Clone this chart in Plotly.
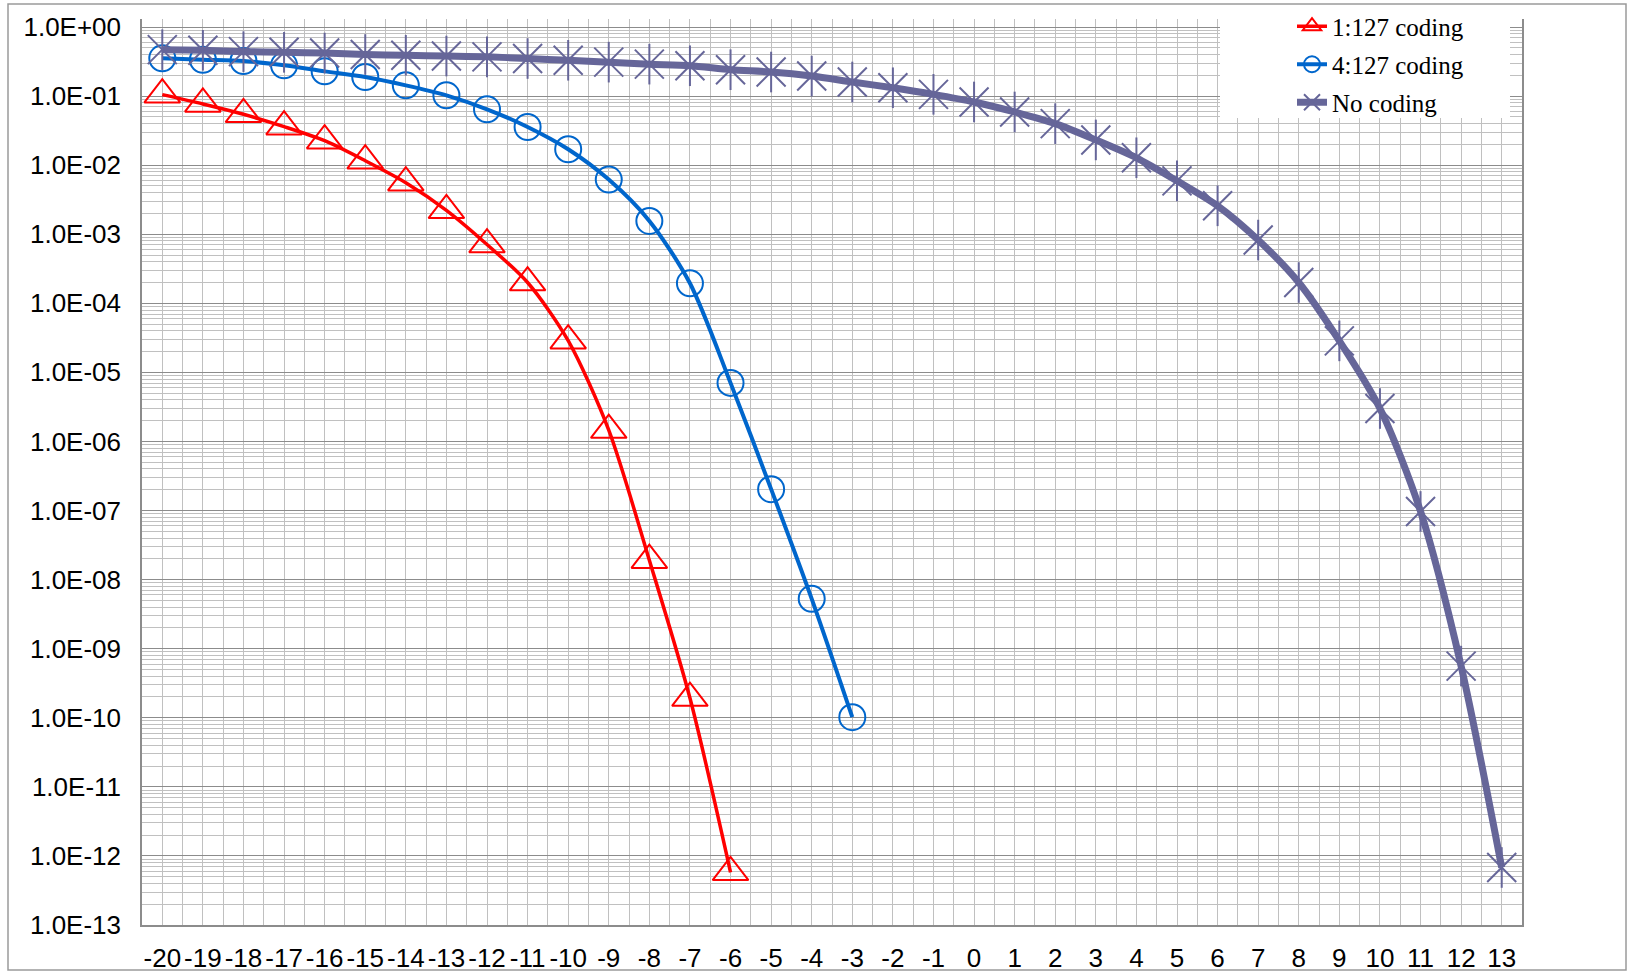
import plotly.graph_objects as go

# ---- data ----
snr_all = list(range(-20, 14))
snr_1_127 = list(range(-20, -5))
snr_4_127 = list(range(-20, -2))

ber_1_127 = [0.105, 0.0769, 0.0545, 0.0361, 0.0226, 0.0116, 0.00558, 0.00222,
             7.1e-4, 2.0e-4, 2.88e-5, 1.46e-6, 1.91e-8, 1.93e-10, 5.8e-13]
ber_4_127 = [0.352, 0.336, 0.322, 0.279, 0.228, 0.189, 0.143, 0.1025, 0.0644,
             0.0357, 0.0170, 0.00618, 0.00156, 1.95e-4, 7.05e-6, 2.04e-7,
             5.27e-9, 1.02e-10]
ber_nocoding = [0.47, 0.46, 0.44, 0.43, 0.42, 0.40, 0.39, 0.38, 0.37, 0.35,
                0.33, 0.31, 0.29, 0.275, 0.241, 0.223, 0.195, 0.16, 0.132,
                0.106, 0.0822, 0.0589, 0.0399, 0.0232, 0.0128, 0.00593,
                0.00258, 8.24e-4, 2.0e-4, 2.86e-5, 3.0e-6, 9.7e-8, 5.6e-10,
                6.8e-13]

series_names = ["1:127 coding", "4:127 coding", "No coding"]

y_exponents = list(range(-13, 1))
y_tickvals = [10.0 ** e for e in y_exponents]
y_ticktext = ["1.0E+00" if e == 0 else "1.0E-%02d" % (-e) for e in y_exponents]

RED = "#FF0000"
BLUE = "#0066CC"
PURPLE = "#666699"

fig = go.Figure()

fig.add_trace(go.Scatter(
    x=snr_1_127, y=ber_1_127, name=series_names[0], mode="lines+markers",
    legendgroup="a",
    line=dict(color=RED, width=3.5, shape="spline", smoothing=0.8),
    marker=dict(symbol="triangle-up-open", size=31, color=RED,
                line=dict(color=RED, width=2)),
))
fig.add_trace(go.Scatter(
    x=snr_4_127, y=ber_4_127, name=series_names[1], mode="lines+markers",
    legendgroup="b",
    line=dict(color=BLUE, width=4, shape="spline", smoothing=0.8),
    marker=dict(symbol="circle-open", size=26, color=BLUE,
                line=dict(color=BLUE, width=2)),
))
fig.add_trace(go.Scatter(
    x=snr_all, y=ber_nocoding, name=series_names[2], mode="lines+markers",
    legendgroup="c",
    line=dict(color=PURPLE, width=7, shape="spline", smoothing=0.8),
    marker=dict(symbol="x-thin-open", size=29, color=PURPLE,
                line=dict(color=PURPLE, width=2)),
))
fig.add_trace(go.Scatter(
    x=snr_all, y=ber_nocoding, name=series_names[2], mode="markers",
    legendgroup="c", showlegend=False,
    marker=dict(symbol="line-ns-open", size=29, color=PURPLE,
                line=dict(color=PURPLE, width=2)),
))

# plot area geometry (pixels)
W, H = 1630, 972
L, R, T, B = 142, 1522, 19, 925
pw, ph = R - L, B - T

def px(xp):
    return (xp - L) / pw

def py(yp):
    return (B - yp) / ph

minor_y = [m * 10.0 ** e for e in range(-13, 0) for m in range(2, 10)]

fig.update_layout(
    width=W, height=H,
    margin=dict(l=L, r=W - R, t=T, b=H - B, pad=0, autoexpand=False),
    paper_bgcolor="white", plot_bgcolor="white",
    font=dict(family="Liberation Sans, Arial", size=26, color="black"),
    showlegend=True,
    legend=dict(
        x=px(1292), y=py(3.5), xanchor="left", yanchor="top",
        bgcolor="rgba(255,255,255,0)", borderwidth=0,
        font=dict(family="Liberation Serif, Times New Roman", size=25, color="black"),
        tracegroupgap=2.5,
    ),
    shapes=[
        dict(type="rect", xref="paper", yref="paper",
             x0=px(8), x1=px(1626), y0=py(970), y1=py(4),
             line=dict(color="#9A9A9A", width=1.5), fillcolor="rgba(0,0,0,0)",
             layer="above"),
        dict(type="rect", xref="paper", yref="paper",
             x0=px(1220), x1=px(1510), y0=py(118), y1=py(18),
             line=dict(width=0), fillcolor="white", layer="above"),
    ],
)

fig.update_xaxes(
    range=[-20.5, 13.5], automargin=False,
    tickmode="array", tickvals=snr_all, ticktext=[str(v) for v in snr_all],
    showgrid=True, gridcolor="#C0C0C0", gridwidth=1,
    minor=dict(tickmode="array",
               tickvals=[v + 0.5 for v in range(-21, 14)],
               showgrid=True, gridcolor="#C0C0C0", gridwidth=1, ticks=""),
    showline=True, linecolor="#8C8C8C", linewidth=1.5,
    ticks="", ticklabelstandoff=9, zeroline=False,
    tickfont=dict(family="Liberation Sans, Arial", size=26, color="black"),
)
fig.update_yaxes(
    type="log", range=[-13, 0.116], automargin=False,
    tickmode="array", tickvals=y_tickvals, ticktext=y_ticktext,
    showgrid=True, gridcolor="#8C8C8C", gridwidth=1,
    minor=dict(tickmode="array", tickvals=minor_y,
               showgrid=True, gridcolor="#C0C0C0", gridwidth=1, ticks=""),
    showline=True, mirror=True, linecolor="#8C8C8C", linewidth=1.5,
    ticks="", ticklabelstandoff=14, zeroline=False,
    tickfont=dict(family="Liberation Sans, Arial", size=26, color="black"),
)

fig.write_html("out.html",
               config={"displayModeBar": False},
               post_script="document.body.style.margin='0';document.body.style.overflow='hidden';")
